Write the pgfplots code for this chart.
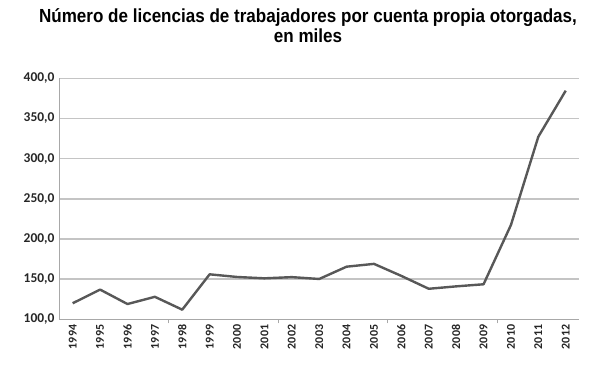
\documentclass[border=0pt]{standalone}
\usepackage{pgfplots}
\pgfplotsset{compat=1.18}
\usepackage{fontspec}
\setmainfont{Carlito}
\newfontfamily\titlefont[FakeStretch=0.90, UprightFont={Liberation Sans Bold}, BoldFont={Liberation Sans Bold}]{Liberation Sans}
\definecolor{gridc}{HTML}{C4C4C4}
\definecolor{linec}{HTML}{585858}
\definecolor{axc}{HTML}{A8A8A8}
\begin{document}
\begin{tikzpicture}[x=1bp,y=1bp]
\path[use as bounding box] (0,0) rectangle (600,375);
\node[font=\titlefont\fontsize{19}{20}\selectfont, align=center, text=black] at (308,349) {Número de licencias de trabajadores por cuenta propia otorgadas,\\en miles};
\begin{axis}[
  at={(59bp,55.7bp)}, anchor=south west,
  scale only axis, width=520.4bp, height=241bp,
  xmin=-0.5, xmax=18.5, ymin=100, ymax=400,
  ytick={100,150,...,400},
  yticklabel style={/pgf/number format/fixed, /pgf/number format/fixed zerofill, /pgf/number format/precision=1, /pgf/number format/use comma, /pgf/number format/1000 sep={}, /pgf/number format/assume math mode=true},
  yticklabel style={font=\bfseries\fontsize{13.5}{15}\selectfont, text=black!85, xshift=-1bp},
  xtick={0,...,18},
  xticklabels={1994,1995,1996,1997,1998,1999,2000,2001,2002,2003,2004,2005,2006,2007,2008,2009,2010,2011,2012},
  xticklabel style={rotate=90, anchor=east, font=\bfseries\fontsize{12}{13}\selectfont, text=black!85, xshift=-2bp},
  major tick length=0pt,
  extra x ticks={3.5,7.5,11.5,15.5},
  extra x tick labels={},
  extra x tick style={major tick length=4bp, tick style={axc, line width=0.8bp}, tick align=outside},
  ymajorgrids, grid style={gridc, line width=1.4bp},
  axis x line*=bottom, axis y line*=left,
  axis line style={axc, line width=1bp, -},
  tick style={axc},
  clip=false,
]
\addplot[linec, line width=2.4bp, line join=round] coordinates {
(0,120) (1,137) (2,119) (3,128) (4,112) (5,156) (6,152.7) (7,151) (8,152.5) (9,150.2)
(10,165.5) (11,169) (12,154) (13,138) (14,141) (15,143.6) (16,217.4) (17,327.3) (18,384.6)
};
\end{axis}
\end{tikzpicture}
\end{document}
